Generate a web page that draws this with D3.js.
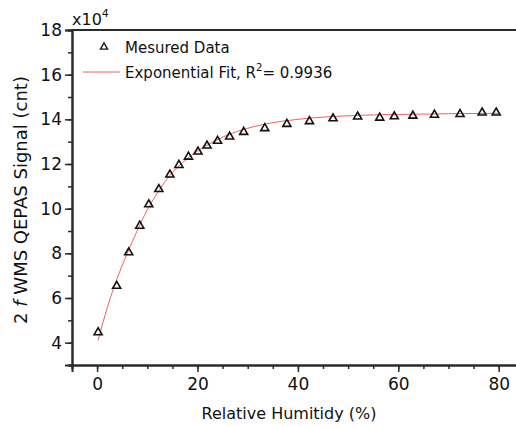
<!DOCTYPE html>
<html>
<head>
<meta charset="utf-8">
<script src="https://cdn.jsdelivr.net/npm/d3@7"></script>
<style>
    body { margin: 0; background: #fff; }
    text { font-family: "DejaVu Sans", sans-serif; fill: #111; }
</style>
</head>
<body>
<svg id="chart" width="516" height="427"></svg>
<script>
// measured data (relative humidity %, signal x10^4)
var humidity = [0.2, 3.9, 6.3, 8.5, 10.3, 12.3, 14.5, 16.3, 18.2, 20.1, 21.9, 24.0, 26.4, 29.2, 33.4, 37.8, 42.3, 47.0, 51.9, 56.3, 59.2, 62.9, 67.2, 72.3, 76.7, 79.5]
var signal   = [4.46, 6.54, 8.04, 9.23, 10.19, 10.87, 11.52, 11.95, 12.32, 12.55, 12.82, 13.03, 13.22, 13.43, 13.60, 13.79, 13.91, 14.04, 14.12, 14.07, 14.13, 14.16, 14.20, 14.23, 14.30, 14.30]

// exponential fit curve
var fitX = [0.2, 2, 4, 6, 8, 10, 12, 14, 16, 18, 20, 23, 26, 30, 35, 40, 45, 50, 60, 70, 80]
var fitY = [4.1, 5.55, 6.88, 8.0, 9.02, 9.95, 10.7, 11.35, 11.85, 12.25, 12.58, 12.98, 13.3, 13.6, 13.85, 14.0, 14.1, 14.16, 14.22, 14.25, 14.27]

var xMajor = [0, 20, 40, 60, 80]
var yMajor = [4, 6, 8, 10, 12, 14, 16, 18]

var legendLabels = ["Mesured Data", "Exponential Fit, R", "= 0.9936"]

var svg = d3.select("#chart")
var plotLeft = 72, plotTop = 30, plotBottom = 365

var xScale = d3.scaleLinear().domain([-5, 85]).range([plotLeft, plotLeft + 90 * 5.02])
var yScale = d3.scaleLinear().domain([3, 18]).range([plotBottom, plotTop])

var axisColor = "#2a2a2a"

// minor + major ticks
var xAxisMinor = d3.axisBottom(xScale).tickValues(d3.range(-5, 86, 5)).tickSize(4).tickFormat("")
var yAxisMinor = d3.axisLeft(yScale).tickValues(d3.range(3, 19, 1)).tickSize(4).tickFormat("")
var xAxis = d3.axisBottom(xScale).tickValues(xMajor).tickSize(7).tickPadding(6)
var yAxis = d3.axisLeft(yScale).tickValues(yMajor).tickSize(7).tickPadding(3)

function styleAxis(g)
{
    g.select(".domain").attr("stroke", axisColor).attr("stroke-width", 2)
    g.selectAll(".tick line").attr("stroke", axisColor).attr("stroke-width", 1.5)
    g.selectAll(".tick text").attr("font-size", 17).attr("fill", "#111")
        .attr("font-family", "DejaVu Sans, sans-serif")
}

svg.append("g").attr("transform", "translate(0," + plotBottom + ")").call(xAxisMinor).call(styleAxis)
svg.append("g").attr("transform", "translate(0," + plotBottom + ")").call(xAxis).call(styleAxis)
svg.append("g").attr("transform", "translate(" + plotLeft + ",0)").call(yAxisMinor).call(styleAxis)
svg.append("g").attr("transform", "translate(" + plotLeft + ",0)").call(yAxis).call(styleAxis)

// top frame line
svg.append("line")
    .attr("x1", plotLeft).attr("x2", 516)
    .attr("y1", plotTop).attr("y2", plotTop)
    .attr("stroke", axisColor).attr("stroke-width", 2)

// fit curve
var line = d3.line()
    .x(function(d, i){return xScale(fitX[i])})
    .y(function(d){return yScale(d)})
    .curve(d3.curveMonotoneX)

svg.append("path")
    .attr("d", line(fitY))
    .attr("fill", "none")
    .attr("stroke", "#f06060")
    .attr("stroke-width", 1)

// measured points
var tri = d3.symbol().type(d3.symbolTriangle).size(28)
svg.selectAll("path.pt")
    .data(humidity)
    .enter()
        .append("path")
        .attr("class", "pt")
        .attr("d", tri)
        .attr("transform", function(d, i){return "translate(" + xScale(d) + "," + yScale(signal[i]) + ")"})
        .attr("fill", "none")
        .attr("stroke", "#111")
        .attr("stroke-width", 1.6)

// x10^4 label
var mult = svg.append("text").attr("x", 72).attr("y", 25).attr("font-size", 16)
mult.append("tspan").text("x10")
mult.append("tspan").attr("dy", -8).attr("font-size", 11).text("4")

// legend
svg.append("path")
    .attr("d", d3.symbol().type(d3.symbolTriangle).size(22))
    .attr("transform", "translate(104,47)")
    .attr("fill", "none").attr("stroke", "#111").attr("stroke-width", 1.3)
svg.append("text").attr("x", 125).attr("y", 53).attr("font-size", 15).text(legendLabels[0])

svg.append("line")
    .attr("x1", 83).attr("x2", 120).attr("y1", 72).attr("y2", 72)
    .attr("stroke", "#f06060").attr("stroke-width", 1)
var leg2 = svg.append("text").attr("x", 125).attr("y", 78).attr("font-size", 15)
leg2.append("tspan").text(legendLabels[1])
leg2.append("tspan").attr("dy", -7).attr("font-size", 10).text("2")
leg2.append("tspan").attr("dy", 7).text(legendLabels[2])

// axis titles
svg.append("text")
    .attr("x", 289).attr("y", 419)
    .attr("text-anchor", "middle").attr("font-size", 16)
    .text("Relative Humitidy (%)")

var yt = svg.append("text")
    .attr("transform", "translate(27,200) rotate(-90)")
    .attr("text-anchor", "middle").attr("font-size", 18)
yt.append("tspan").text("2 ")
yt.append("tspan").attr("font-style", "italic").text("f")
yt.append("tspan").text(" WMS QEPAS Signal (cnt)")
</script>
</body>
</html>
